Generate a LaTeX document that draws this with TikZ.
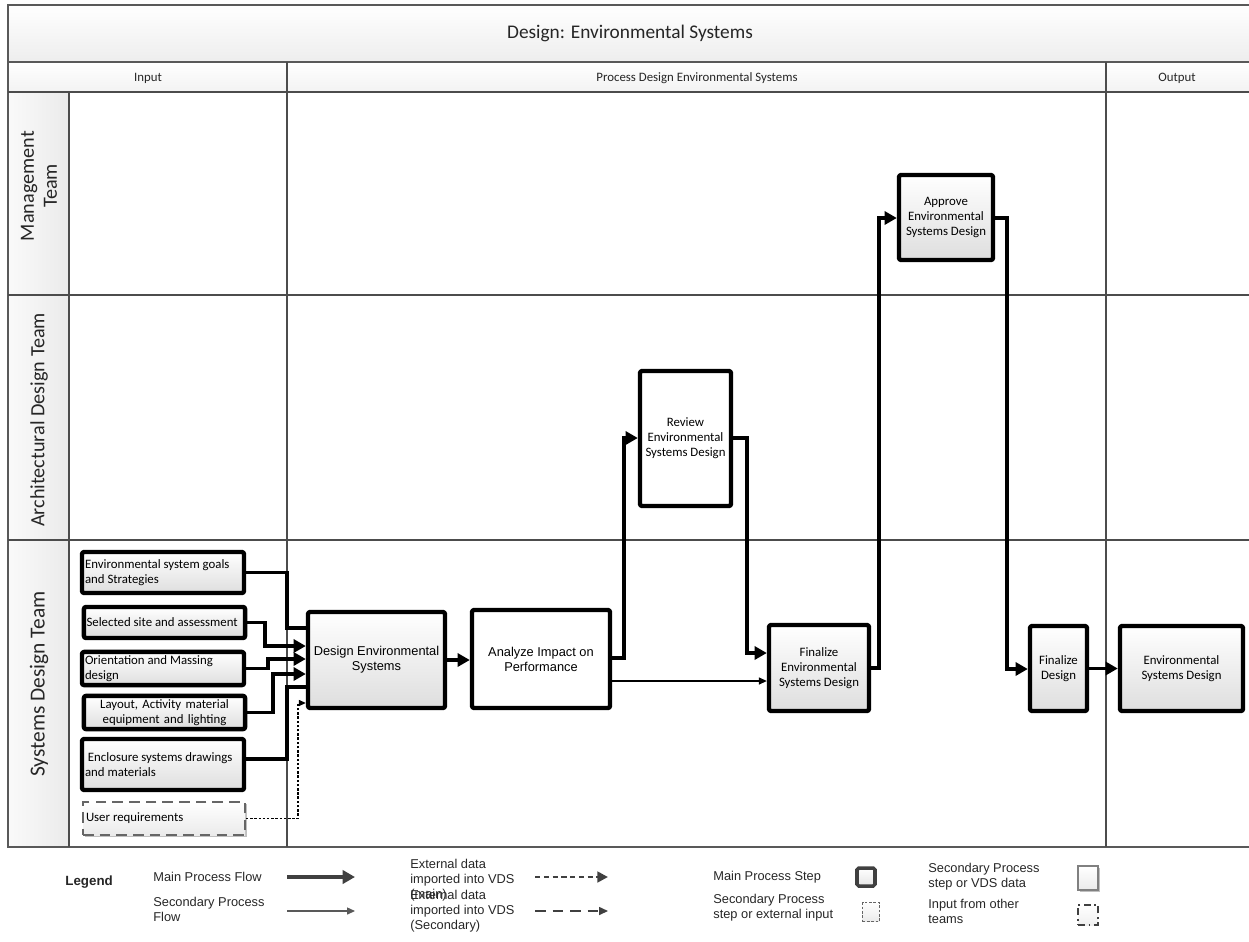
\documentclass[tikz,border=0pt]{standalone}
\usepackage{fontspec}
\setmainfont{Carlito}
\newfontfamily\arialfont{Liberation Sans}
\usetikzlibrary{arrows.meta,shadows}

\begin{document}
\begin{tikzpicture}[
  x=0.02cm, y=-0.02cm,
  lanerule/.style={draw=black!70, line width=0.7pt},
  framerule/.style={draw=black!65, line width=1.1pt},
  smalltxt/.style={font=\fontsize{7.3}{8.6}\selectfont, inner sep=0pt, text=black!85},
  lanetxt/.style={font=\fontsize{11.5}{13}\selectfont, inner sep=0pt, rotate=90, align=center, text=black!85},
  stepshadow/.style={drop shadow={shadow xshift=0.9pt, shadow yshift=-0.9pt, opacity=0.25, fill=black}},
  mainstep/.style={draw=black, line width=2.5pt, rounded corners=1.2pt, line join=round,
    top color=white, bottom color=black!13, stepshadow,
    font=\fontsize{7.3}{8.6}\selectfont, align=center, inner sep=2pt},
  inputstep/.style={mainstep, align=flush left, inner xsep=1.5pt, text width=156*0.02cm},
  whitestep/.style={mainstep, top color=white, bottom color=white},
  extstep/.style={draw=black!60, line width=1pt, dash pattern=on 6pt off 3.5pt,
    top color=white, bottom color=black!8, stepshadow,
    font=\fontsize{7.3}{8.6}\selectfont, align=flush left, inner xsep=1.5pt, text width=156*0.02cm},
  flowline/.style={line width=2.2pt, line join=miter},
  flowmain/.style={flowline, -{Triangle[length=7pt,width=7.5pt]}},
  flowthin/.style={line width=0.6pt, -{Triangle[length=4.5pt,width=4pt]}},
  flowext/.style={line width=0.6pt, dash pattern=on 1.4pt off 1pt, -{Triangle[length=4pt,width=3.5pt]}},
  legtxt/.style={font=\arialfont\fontsize{7.3}{8.6}\selectfont, inner sep=0pt, align=left, text=black!85, anchor=west}
]
\useasboundingbox (0,0) rectangle (1249,941);

% ---------- swimlane frame ----------
\fill[top color=white, bottom color=black!7] (8,5) rectangle (1260,62);
\fill[top color=white, bottom color=black!5] (8,62) rectangle (1260,92);
\fill[left color=black!2, right color=black!8] (8,92) rectangle (69,847);
\draw[framerule] (1260,5) -- (8,5) -- (8,847) -- (1260,847);
\draw[framerule] (8,62) -- (1260,62);
\draw[lanerule] (8,92) -- (1260,92);
\draw[lanerule] (8,295) -- (1260,295);
\draw[lanerule] (8,540) -- (1260,540);
\draw[lanerule] (69,92) -- (69,847);
\draw[lanerule] (287,62) -- (287,847);
\draw[lanerule] (1106,62) -- (1106,847);

\node[font=\fontsize{11}{13}\selectfont, inner sep=0pt, text=black!85] (title) at (630,33) {Design: Environmental Systems};
\node[smalltxt] (colin)  at (148,78)  {Input};
\node[smalltxt] (colpro) at (697,78)  {Process Design Environmental Systems};
\node[smalltxt] (colout) at (1177,78) {Output};

\node[lanetxt] (lanemgmt) at (39,186) {Management\\Team};
\node[lanetxt] (lanearch) at (39,420) {Architectural Design Team};
\node[lanetxt, font=\fontsize{12.2}{14}\selectfont] (lanesys) at (39,684) {Systems Design Team};

% ---------- inputs ----------
\node[inputstep, minimum width=162*0.02cm, minimum height=41*0.02cm] (goals) at (163,572.5) {Environmental system goals\\and Strategies};
\node[inputstep, minimum width=159*0.02cm, minimum height=31*0.02cm] (site) at (164.5,622.5) {Selected site and assessment};
\node[inputstep, minimum width=162*0.02cm, minimum height=33*0.02cm] (orient) at (163,668.5) {Orientation and Massing\\design};
\node[inputstep, align=center, minimum width=159*0.02cm, minimum height=33*0.02cm] (layout) at (164.5,712.5) {Layout, Activity material\\equipment and lighting};
\node[inputstep, minimum width=162*0.02cm, minimum height=51*0.02cm] (encl) at (163,764.5) {\ Enclosure systems drawings\\and materials};
\node[extstep, minimum width=162*0.02cm, minimum height=33*0.02cm] (userreq) at (164,818.5) {User requirements};

% ---------- process steps ----------
\node[mainstep, font=\arialfont\fontsize{7.3}{8.6}\selectfont, minimum width=137*0.02cm, minimum height=96*0.02cm] (design) at (376.5,660) {Design Environmental\\Systems};
\node[whitestep, font=\arialfont\fontsize{7.3}{8.6}\selectfont, minimum width=138*0.02cm, minimum height=98*0.02cm] (analyze) at (541,659) {Analyze Impact on\\Performance};
\node[whitestep, minimum width=91*0.02cm, minimum height=135*0.02cm] (review) at (685.5,438.5) {Review\\Environmental\\Systems Design};
\node[mainstep, minimum width=100*0.02cm, minimum height=86*0.02cm] (finenv) at (819,668) {Finalize\\Environmental\\Systems Design};
\node[mainstep, minimum width=94*0.02cm, minimum height=85*0.02cm] (approve) at (946,217.5) {Approve\\Environmental\\Systems Design};
\node[mainstep, minimum width=57*0.02cm, minimum height=85*0.02cm] (findes) at (1058.5,668.5) {Finalize\\Design};
\node[mainstep, minimum width=123*0.02cm, minimum height=85*0.02cm] (output) at (1181.5,668.5) {Environmental\\Systems Design};

% ---------- connectors ----------
\draw[flowline] (goals.east) -| (287,628) -- (design.west |- 0,628);
\draw[flowmain] (site.east) -| (265,646) -- (design.west |- 0,646);
\draw[flowmain] (orient.east) -| (268,659) -- (design.west |- 0,659);
\draw[flowmain] (layout.east) -| (273,674) -- (design.west |- 0,674);
\draw[flowline] (encl.east |- 0,759) -| (287,687) -- (design.west |- 0,687);
\draw[flowext] (userreq.east) -| (298,703) -- (design.west |- 0,703);

\draw[flowmain] (design.east) -- (analyze.west |- design.east);
\draw[flowmain] (analyze.east |- 0,658) -| (624,438) -- (review.west |- 0,438);
\draw[flowthin] (analyze.east |- 0,681) -- (finenv.west |- 0,681);
\draw[flowmain] (review.east |- 0,438) -| (747,653) -- (finenv.west |- 0,653);
\draw[flowmain] (finenv.east) -| (879,218) -- (approve.west |- 0,218);
\draw[flowmain] (approve.east |- 0,218) -| (1007,669) -- (findes.west |- 0,669);
\draw[flowmain] (findes.east) -- (output.west |- findes.east);

% ---------- legend ----------
\node[legtxt, font=\arialfont\bfseries\fontsize{7.6}{9}\selectfont] (legtitle) at (65,882) {Legend};
\node[legtxt] (legmain) at (153,877) {Main Process Flow};
\node[legtxt] (legsec) at (153,909) {Secondary Process\\Flow};
\node[legtxt] (legextm) at (410,880) {External data\\imported into VDS\\(main)};
\node[legtxt] (legexts) at (410,911) {External data\\imported into VDS\\(Secondary)};
\node[legtxt] (legmstep) at (713,877) {Main Process Step};
\node[legtxt] (legsstep) at (713,908) {Secondary Process\\step or external input};
\node[legtxt] (legvds) at (928,877) {Secondary Process\\step or VDS data};
\node[legtxt] (legteams) at (928,911) {Input from other\\teams};

\coordinate (lm1) at (287,877); \coordinate (lm2) at (355,877);
\coordinate (ls1) at (287,911); \coordinate (ls2) at (355,911);
\coordinate (le1) at (535,877); \coordinate (le2) at (608,877);
\coordinate (lf1) at (535,911); \coordinate (lf2) at (608,911);
\draw[flowmain, draw=black!75, fill=black!75] (lm1) -- (lm2);
\draw[flowthin, draw=black!65, fill=black!65] (ls1) -- (ls2);
\draw[line width=1.5pt, dash pattern=on 3pt off 2pt, draw=black!75, -{Triangle[length=6pt,width=6pt]}] (le1) -- (le2);
\draw[line width=0.7pt, dash pattern=on 6pt off 4pt, draw=black!75, -{Triangle[length=5pt,width=4.5pt]}] (lf1) -- (lf2);

\node[draw=black!75, line width=2pt, rounded corners=1pt, top color=white, bottom color=black!10, minimum width=18*0.02cm, minimum height=18*0.02cm, inner sep=0pt] (boxmain) at (866,877) {};
\node[draw=black!60, line width=0.5pt, dash pattern=on 1.5pt off 1pt, top color=white, bottom color=black!8, minimum width=17*0.02cm, minimum height=19*0.02cm, inner sep=0pt] (boxsec) at (871,912) {};
\node[draw=black!50, line width=0.6pt, top color=white, bottom color=black!8, stepshadow, minimum width=20*0.02cm, minimum height=24*0.02cm, inner sep=0pt] (boxvds) at (1088,878) {};
\node[draw=black!75, line width=1pt, dash pattern=on 4pt off 2pt on 1pt off 2pt, top color=white, bottom color=black!6, minimum width=20*0.02cm, minimum height=20*0.02cm, inner sep=0pt] (boxteam) at (1088,915) {};
\end{tikzpicture}
\end{document}
